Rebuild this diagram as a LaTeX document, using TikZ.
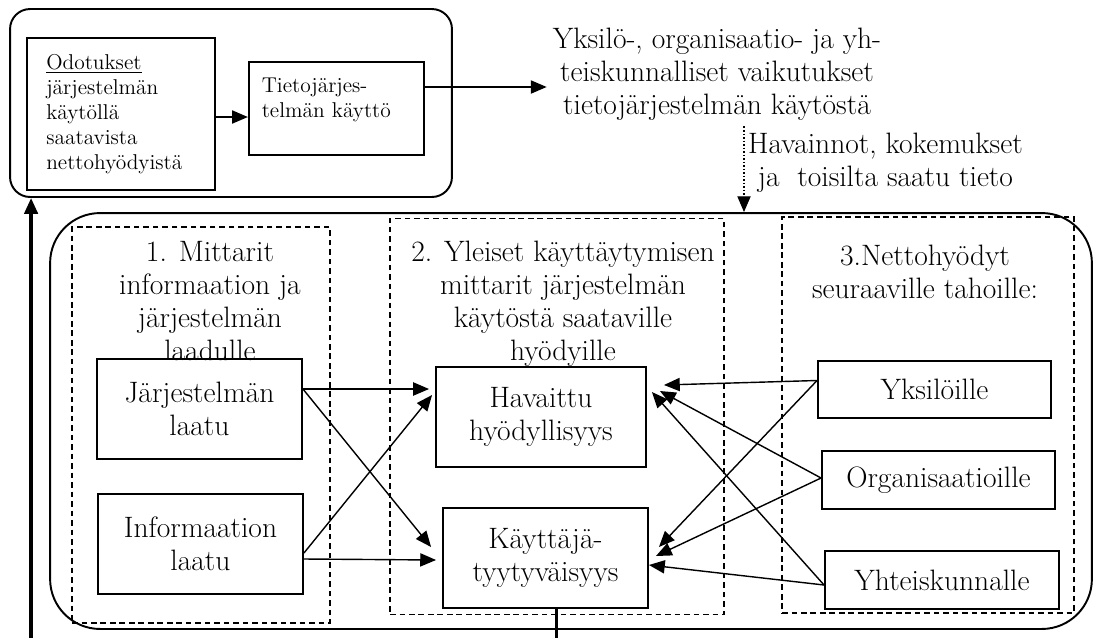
\documentclass[tikz,border=0pt]{standalone}
\usepackage{tikz}
\usetikzlibrary{arrows.meta}

\begin{document}
\begin{tikzpicture}[x=0.02cm, y=-0.02cm, >={Triangle[length=9pt,width=7.5pt]},
        every node/.style = {font=\fontsize{16.8}{18.8}\selectfont},
        outer/.style = {draw, line width=1.1pt},
        box/.style = {draw, line width=1.1pt, align=center, minimum height=2cm},
        small/.style = {draw, line width=1.1pt, align=left, font=\fontsize{12.2}{14.3}\selectfont},
        group/.style = {draw, line width=0.9pt, dash pattern=on 3.2pt off 2.2pt, minimum height=7.92cm},
        title/.style = {align=center},
        link/.style = {->, line width=0.8pt},
        fb/.style = {->, line width=2pt}]
        \clip (0,0) rectangle (1093,637);
        % top
        \node[outer, rounded corners=0.4cm, minimum width=8.84cm, minimum height=3.76cm] (0) at (231,103) {};
        \node[small, text width=85pt, inner xsep=10.8pt, minimum height=3.04cm] (1) at (121,114) {\underline{Odotukset}\\järjestelmän\\käytöllä\\saatavista\\nettohyödyistä};
        \node[small, text width=85pt, inner xsep=7.4pt, minimum height=1.86cm] (2) at (336.5,108.5) {Tietojärjes-\\telmän käyttö\\[-2pt]\mbox{}};
        \node[title] (3) at (717,74) {Yksilö-, organisaatio- ja yh-\\teiskunnalliset vaikutukset\\tietojärjestelmän käytöstä};
        % bottom
        \node[outer, rounded corners=1cm, minimum width=20.84cm, minimum height=8.32cm] (4) at (571,421) {};
        \node[group, minimum width=5.16cm] (5) at (201,425) {};
        \node[group, minimum width=6.68cm] (6) at (557,416.5) {};
        \node[group, minimum width=5.84cm] (7) at (928,415) {};
        \node[title] (8) at (210,301) {1. Mittarit\\informaation ja\\järjestelmän\\laadulle};
        \node[title] (9) at (563,304) {2. Yleiset käyttäytymisen\\mittarit järjestelmän\\käytöstä saataville\\hyödyille};
        \node[title] (10) at (925,272) {3.Nettohyödyt\\seuraaville tahoille:};
        \node[box, minimum width=4.1cm] (11) at (199.5,409) {Järjestelmän\\laatu};
        \node[box, minimum width=4.1cm] (12) at (200.5,544) {Informaation\\laatu};
        \node[box, minimum width=4.2cm] (13) at (541,417) {Havaittu\\hyödyllisyys};
        \node[box, minimum width=4.1cm] (14) at (545.5,558) {Käyttäjä-\\tyytyväisyys};
        \node[box, minimum width=4.66cm, minimum height=1.14cm] (15) at (934.5,389.5) {Yksilöille};
        \node[box, minimum width=4.66cm, minimum height=1.16cm] (16) at (938.5,480) {Organisaatioille};
        \node[box, minimum width=4.68cm, minimum height=1.16cm] (17) at (942,580) {Yhteiskunnalle};
        % connectors
        \draw[link] ([shift={(0,3)}]1.east) -- ([shift={(0,3)}]1.east -| 2.west);
        \draw[link] ([shift={(0,-21.5)}]2.east) -- ([shift={(0,-21.5)}]2.east -| 3.west);
        \draw[link, dash pattern=on 1pt off 1pt] ([shift={(27,0)}]3.south) -- node[right, pos=0.42, align=center, inner sep=2pt] {Havainnot, kokemukset\\ja~~toisilta saatu tieto} ([shift={(27,0)}]3.south |- 4.north);
        \draw[link] ([shift={(0,-20)}]11.east) -- ([shift={(-6,-28)}]13.west);
        \draw[link] ([shift={(0,-20)}]11.east) -- ([shift={(-11,-11)}]14.west);
        \draw[link] ([shift={(0,9)}]12.east) -- ([shift={(-3,-22)}]13.west);
        \draw[link] ([shift={(0,15)}]12.east) -- ([shift={(-6,2)}]14.west);
        \draw[link] ([shift={(0,-9)}]15.west) -- ([shift={(17,-32)}]13.east);
        \draw[link] ([shift={(0,-9)}]15.west) -- ([shift={(10,-11)}]14.east);
        \draw[link] ([shift={(0,-2)}]16.west) -- ([shift={(13,-26)}]13.east);
        \draw[link] ([shift={(0,-2)}]16.west) -- ([shift={(7,-2)}]14.east);
        \draw[link] ([shift={(0,5)}]17.west) -- ([shift={(5,-25)}]13.east);
        \draw[link] ([shift={(0,5)}]17.west) -- ([shift={(0,7)}]14.east);
        \draw[fb] ([shift={(11,0)}]14.south) -- ++(0,40) -| ([shift={(22,0)}]0.south west);
\end{tikzpicture}
\end{document}
